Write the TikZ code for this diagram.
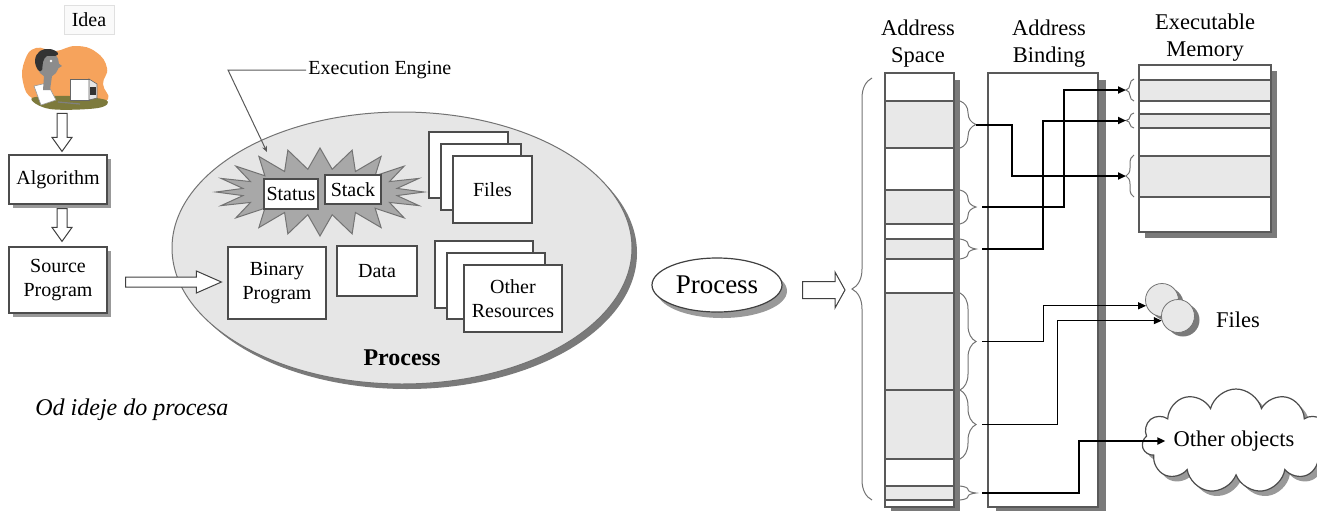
\documentclass[tikz,border=0pt]{standalone}
\usepackage{fontspec}
\setmainfont{Liberation Serif}
\usetikzlibrary{positioning,calc,shapes.geometric,shapes.symbols,shadows,decorations.pathreplacing,arrows.meta}

\definecolor{procgray}{HTML}{E6E6E6}
\definecolor{segfill}{HTML}{E8E8E8}
\definecolor{burst}{HTML}{A8A8A8}
\definecolor{shade}{HTML}{7A7A7A}
\definecolor{skin}{HTML}{8C8C8C}
\definecolor{clipbg}{HTML}{F6A35C}
\definecolor{grass}{HTML}{7D7A3C}

\tikzset{
  txt/.style={font=\fontsize{10}{12}\selectfont, align=center, inner sep=1pt},
  box/.style={txt, draw=black!70, fill=white, line width=0.6pt},
  sbox/.style={box, drop shadow={shadow xshift=2pt, shadow yshift=-2pt, fill=black!40, opacity=1}},
  head/.style={font=\fontsize{11.25}{13.5}\selectfont, align=center, inner sep=0pt},
  seg/.style={fill=segfill, draw=black!65, line width=0.6pt},
  col/.style={draw=black!65, fill=white, line width=0.6pt, inner sep=0pt},
  sbrace/.style={draw=black!55, line width=0.5pt, decorate, decoration={brace, amplitude=#1}},
  link/.style={line width=1pt, -{Triangle[length=4pt,width=3.5pt]}},
  thinlink/.style={link, line width=0.5pt},
  fat/.style={draw=black!75, fill=white, line width=0.5pt},
  bubble/.style={circle, draw=black!55, fill=segfill, minimum size=16.5pt, inner sep=0pt,
    drop shadow={shadow xshift=2.5pt, shadow yshift=-2pt, fill=shade, opacity=1}}
}

% hollow block arrows
\newcommand\fatdown[2]{%
  \draw[fat] let \p1=(#1), \p2=(#2) in
    (\x1-2.5pt,\y1) -- (\x1-2.5pt,\y2+7pt) -- (\x1-5pt,\y2+7pt) -- (\x1,\y2)
    -- (\x1+5pt,\y2+7pt) -- (\x1+2.5pt,\y2+7pt) -- (\x1+2.5pt,\y1) -- cycle;}
\newcommand\fatright[5]{%
  \draw[fat] let \p1=(#1), \p2=(#2) in
    (\x1,\y1+#3) -- (\x2-#5,\y1+#3) -- (\x2-#5,\y1+#4) -- (\x2,\y1)
    -- (\x2-#5,\y1-#4) -- (\x2-#5,\y1-#3) -- (\x1,\y1-#3) -- cycle;}

\begin{document}
\begin{tikzpicture}[x=0.5pt, y=-0.5pt]
  \useasboundingbox (0,0) rectangle (1317,510);

  % left column: idea -> algorithm -> source
  \node[txt, draw=black!12, fill=black!2, minimum width=25pt, minimum height=14.5pt] (idea) at (89,20) {Idea};

  \node[inner sep=0pt, minimum width=43pt, minimum height=31.5pt] (clip) at (65,78.5) {};
  \fill[clipbg] plot[smooth cycle, tension=0.8] coordinates
    {(25,60) (36,48) (55,51) (76,46) (96,52) (107,68) (103,84) (108,99) (90,104) (60,100) (34,99) (23,82)};
  \fill[grass] plot[smooth cycle, tension=0.6] coordinates {(32,98) (70,96) (106,100) (98,108) (50,109)};
  \filldraw[fill=white, draw=black!40, line width=0.3pt] (34,86) -- (47,83) -- (56,100) -- (41,105) -- cycle;
  % the man at his desk
  \fill[skin] (44,76) -- (52,76) -- (50,90) -- (43,90) -- cycle;
  \fill[skin] (48,64) ellipse (11 and 13);
  \fill[skin] (57,62) -- (62,66) -- (57,69) -- cycle;
  \fill[black!80] plot[smooth cycle, tension=0.7] coordinates
    {(35,60) (40,51) (50,49) (58,53) (55,56) (47,56) (43,62) (42,70) (38,70)};
  \fill[white] (51,61) circle (1.3);
  \filldraw[fill=white, draw=black!60, line width=0.3pt] (70,79) rectangle (89,100);
  \filldraw[fill=black!10, draw=black!60, line width=0.3pt] (89,79) -- (97,84) -- (97,98) -- (89,100) -- cycle;
  \fill[black!80] (90,87) rectangle (96,95);
  \draw[black!50, line width=0.6pt] (58,102) -- (80,104);

  \node[sbox, minimum width=49pt, minimum height=24.5pt] (alg) at (58,179.5) {Algorithm};
  \node[sbox, minimum width=49pt, minimum height=33pt] (src) at (58,280) {Source\\Program};

  \fatdown{$(clip.south)+(-1.5pt,-1.5pt)$}{$(alg.north)+(2pt,1.5pt)$}
  \fatdown{$(alg.south)+(2pt,-2pt)$}{$(src.north)+(2pt,2.5pt)$}

  % the process
  \node[ellipse, draw=black!55, fill=procgray, line width=0.5pt, minimum width=230pt, minimum height=136pt,
    drop shadow={shadow xshift=2.5pt, shadow yshift=-2.5pt, fill=shade, opacity=1}] (proc) at (402,248) {};
  \node[font=\fontsize{12}{14}\selectfont\bfseries] (proclbl) at (402,358) {Process};

  \filldraw[fill=burst, draw=black!55, line width=0.5pt]
    plot[samples at={0,...,39}, variable=\k]
      ({320+(mod(\k,2)==0 ? 104 : 78)*cos(9*\k)}, {192+(mod(\k,2)==0 ? 44 : 23)*sin(9*\k)}) -- cycle;
  \coordinate (burst) at (267,152);
  \node[box, minimum width=27pt, minimum height=15pt] (status) at (291,194) {Status};
  \node[box, minimum width=28pt, minimum height=14.5pt] (stack) at (353,189.5) {Stack};

  \node[txt, anchor=west] (engine) at (306,70) {Execution Engine};
  \draw[black!65, line width=0.5pt, -{Stealth[length=3pt,width=2.5pt]}] (engine.west) -- ++(-39pt,0) -- (burst);

  \node[box, minimum width=39.5pt, minimum height=33pt] (files3) at (468.5,165) {};
  \node[box, minimum width=40pt, minimum height=33pt] (files2) at (481,177) {};
  \node[box, minimum width=39.5pt, minimum height=33.5pt] (files) at (492.5,189.5) {Files};

  \node[box, minimum width=49pt, minimum height=36pt] (bin) at (277,283) {Binary\\Program};
  \node[box, minimum width=40pt, minimum height=25pt] (data) at (377,271) {Data};

  \node[box, minimum width=49pt, minimum height=33.5pt] (res3) at (484,274.5) {};
  \node[box, minimum width=49pt, minimum height=33pt] (res2) at (496,286) {};
  \node[box, minimum width=49pt, minimum height=33.5pt] (res) at (513,298.5) {Other\\Resources};

  \fatright{$(src.east)+(9pt,-1pt)$}{$(bin.west)+(-3pt,0)$}{2.5pt}{5.5pt}{12.5pt}

  \node[font=\fontsize{12}{14}\selectfont\itshape, anchor=west, inner sep=0pt] (motto) at (35,410) {Od ideje do procesa};

  % process as address space
  \node[ellipse, draw=black!75, fill=white, line width=0.6pt, minimum width=65pt, minimum height=27pt,
    inner sep=0pt, font=\fontsize{13.5}{16}\selectfont,
    drop shadow={shadow xshift=2.5pt, shadow yshift=-3pt, fill=black!40, opacity=1}] (ps) at (717,285) {Process};

  \draw[sbrace=10pt] (872,500) -- (872,78);
  \coordinate (btip) at (852,289);
  \fatright{$(ps.east)+(10pt,-2.5pt)$}{$(btip)+(-3.5pt,0)$}{4.25pt}{9pt}{5pt}

  \node[head] (ashead) at (918,44) {Address\\Space};
  \node[head] (abhead) at (1049,44) {Address\\Binding};
  \node[head] (emhead) at (1205,38) {Executable\\Memory};

  \node[col, minimum width=34.5pt, minimum height=217pt,
    drop shadow={shadow xshift=3pt, shadow yshift=-3.5pt, fill=shade, opacity=1}] (aspace) at (919.5,290) {};
  \foreach \a/\b in {101/148,190/224,239/259,293/390,390/459,486/500}
    \draw[seg] (885,\a) rectangle (954,\b);
  \foreach \a/\b/\n in {101/148/1,190/224/2,239/259/3,293/390/4,390/459/5,486/500/6} {
    \draw[sbrace=8pt] (960,\a) -- (960,\b);
    \coordinate (s\n) at (976,{(\a+\b)/2});
  }

  \node[col, minimum width=55pt, minimum height=217pt,
    drop shadow={shadow xshift=4pt, shadow yshift=-3.5pt, fill=shade, opacity=1}] (abind) at (1043,290) {};

  \node[col, minimum width=66pt, minimum height=83.5pt,
    drop shadow={shadow xshift=3pt, shadow yshift=-3pt, fill=shade, opacity=1}] (emem) at (1205,148.5) {};
  \foreach \a/\b in {80/101,114/128,156/197}
    \draw[seg] (1139,\a) rectangle (1271,\b);
  \foreach \a/\b/\n in {79/101/1,113/128/2,155/197/3} {
    \draw[sbrace=4pt] (1134,\b) -- (1134,\a);
    \coordinate (m\n) at (1126,{(\a+\b)/2});
  }

  \node[bubble] (f1) at (1162,300) {};
  \node[bubble] (f2) at (1178,316) {};
  \node[head] (fileslbl) at (1238,320) {Files};

  \node[cloud, cloud puffs=11, cloud ignores aspect, draw=black!70, fill=white, line width=0.6pt,
    minimum width=94pt, minimum height=52pt,
    drop shadow={shadow xshift=2.5pt, shadow yshift=-2.5pt, fill=black!40, opacity=1}] (cloud) at (1236,441) {};
  \node[head] (oth) at (1234,441) {Other objects};

  % bindings
  \draw[link] (s1) -- ++(36,0) |- (m3);
  \draw[link, shorten <=3pt] (s2) -- ++(88,0) |- (m1);
  \draw[link, shorten <=3pt] (s3) -- ++(67,0) |- (m2);
  \draw[thinlink, shorten <=3pt] (s4) -- ++(67,0) |- (f1.200);
  \draw[thinlink, shorten <=3pt] (s5) -- ++(81,0) |- (f2.196);
  \draw[link, shorten <=3pt] (s6) -- ++(103,0) |- ($(oth.west)+(-4pt,0)$);
\end{tikzpicture}
\end{document}
